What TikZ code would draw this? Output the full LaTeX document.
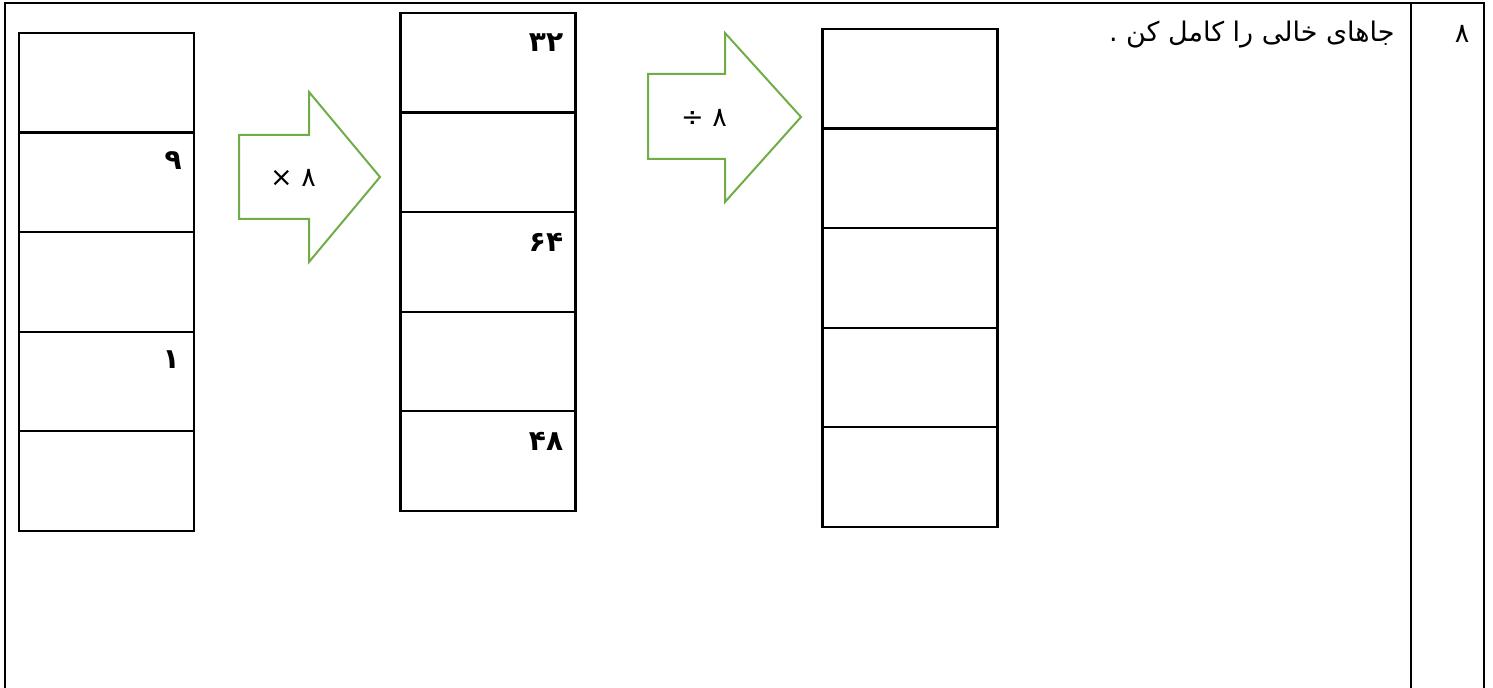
\documentclass[tikz,border=0pt]{standalone}
\usepackage{fontspec}
\newfontfamily\arabicfont[Script=Arabic]{DejaVu Sans}
\TeXXeTstate=1
\usepackage{tikz}
\usetikzlibrary{positioning}
\definecolor{arrowgreen}{HTML}{70AD47}

\begin{document}
\begin{tikzpicture}[x=0.5pt,y=-0.5pt,node distance=0pt,
    cell/.style={rectangle,draw,line width=1.1pt,minimum width=87.5pt,
                 minimum height=49.8pt,inner sep=0pt,outer sep=0pt},
    num/.style={anchor=base east,inner sep=0pt,
                font=\arabicfont\bfseries\fontsize{14}{16}\selectfont},
    txt/.style={inner sep=0pt,font=\arabicfont\fontsize{13.5}{16}\selectfont},
    rule/.style={line width=1.1pt},
    bigarrow/.style={draw=arrowgreen,line width=1pt,line join=miter}]
  \useasboundingbox (0,0) rectangle (1493,688);
  % table frame
  \draw[rule] (5,688) -- (5,3) -- (1484,3) -- (1484,688);
  \draw[rule] (1411,3) -- (1411,688);
  \node[txt,anchor=east] (task) at (1395,35) {\beginR جاهای خالی را کامل کن .\endR};
  \node[txt] (qnum) at (1462,34) {۸};
  % three columns of cells
  \node[cell] (a1) at (106.5,82.8) {};
  \node[cell] (b1) at (488,62.8) {};
  \node[cell] (c1) at (910,78.8) {};
  \foreach \i [remember=\i as \j (initially 1)] in {2,...,5} {
    \node[cell,below=of a\j] (a\i) {};
    \node[cell,below=of b\j] (b\i) {};
    \node[cell,below=of c\j] (c\i) {};
  }
  \node[num] (n9) at ([xshift=-6pt,yshift=-18.5pt]a2.north east) {۹};
  \node[num] (n1) at ([xshift=-7pt,yshift=-18.5pt]a4.north east) {۱};
  \node[num] (n32) at ([xshift=-6pt,yshift=-19.5pt]b1.north east) {۳۲};
  \node[num] (n64) at ([xshift=-6pt,yshift=-19.5pt]b3.north east) {۶۴};
  \node[num] (n48) at ([xshift=-6pt,yshift=-19.5pt]b5.north east) {۴۸};
  % operation arrows
  \draw[bigarrow] (239,135) -- (309,135) -- (309,92) -- (380,177)
    -- (309,262) -- (309,219) -- (239,219) -- cycle;
  \node[txt] (mul) at (293,178) {× ۸};
  \draw[bigarrow] (648,74) -- (725,74) -- (725,33) -- (801,117)
    -- (725,202) -- (725,159) -- (648,159) -- cycle;
  \node[txt] (div) at (704,118) {÷ ۸};
\end{tikzpicture}
\end{document}
